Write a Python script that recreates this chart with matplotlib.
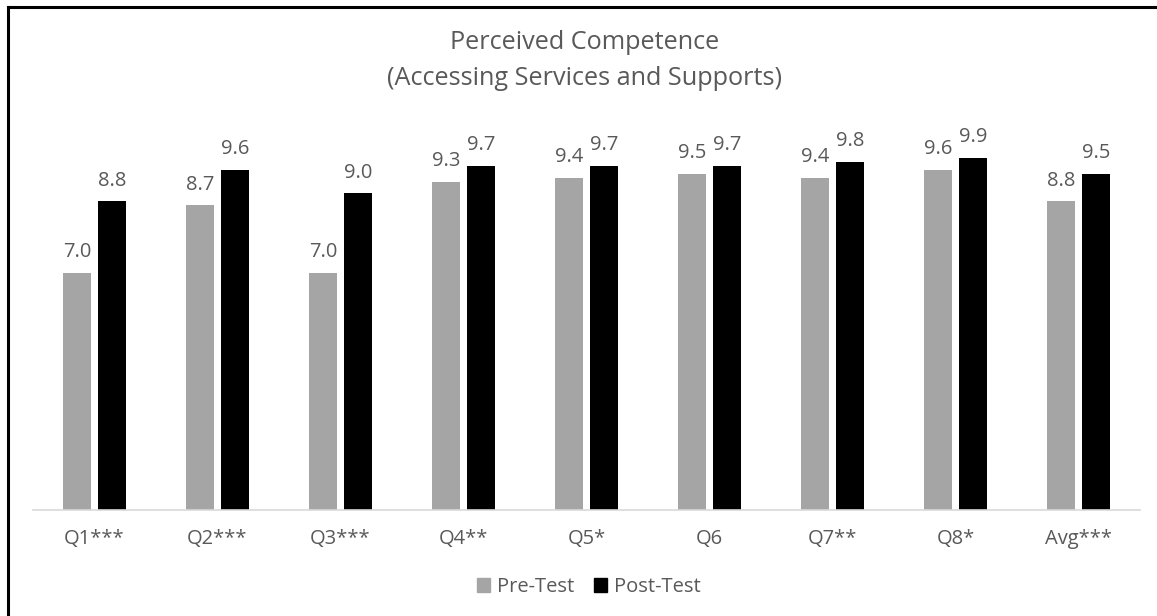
import matplotlib.pyplot as plt
from matplotlib.lines import Line2D
from matplotlib.patches import Patch
import numpy as np

# --- Data ---
categories = ['Q1***', 'Q2***', 'Q3***', 'Q4**', 'Q5*', 'Q6', 'Q7**', 'Q8*', 'Avg***']
pre_test = [7.0, 8.7, 7.0, 9.3, 9.4, 9.5, 9.4, 9.6, 8.8]
post_test = [8.8, 9.6, 9.0, 9.7, 9.7, 9.7, 9.8, 9.9, 9.5]

plt.rcParams['font.family'] = ['Open Sans', 'DejaVu Sans']
text_col = '#595959'
pre_col = '#A5A5A5'
post_col = '#000000'

fig = plt.figure(figsize=(11.57, 6.16), dpi=100)
ax = fig.add_axes([0.0285, 0.1721, 0.9568, 0.578])

x = np.arange(len(categories))
w = 0.228
off = 0.142
b1 = ax.bar(x - off, np.array(pre_test) - 1, w, bottom=1, color=pre_col)
b2 = ax.bar(x + off, np.array(post_test) - 1, w, bottom=1, color=post_col)

# value labels above each bar
for xs, vals in ((x - off, pre_test), (x + off, post_test)):
    for xi, v in zip(xs, vals):
        ax.annotate('%.1f' % v, (xi, v), xytext=(0, 7.5), textcoords='offset points',
                    ha='center', va='bottom', fontsize=14.5, color=text_col)

ax.set_xlim(-0.5, len(categories) - 0.5)
ax.set_ylim(1, 10)
ax.set_xticks(x)
ax.set_xticklabels(categories, fontsize=14.5, color=text_col)
ax.tick_params(axis='x', length=0, pad=14)
ax.set_yticks([])
for s in ['top', 'right', 'left']:
    ax.spines[s].set_visible(False)
ax.spines['bottom'].set_color('#D9D9D9')
ax.spines['bottom'].set_linewidth(1.2)

fig.text(0.5055, 0.931, 'Perceived Competence', ha='center', va='center',
         fontsize=18.2, color=text_col)
fig.text(0.5055, 0.873, '(Accessing Services and Supports)', ha='center', va='center',
         fontsize=18.2, color=text_col)

handles = [Patch(color=pre_col), Patch(color=post_col)]
fig.legend(handles, ['Pre-Test', 'Post-Test'], loc='center', bbox_to_anchor=(0.509, 0.047),
           ncol=2, frameon=False, fontsize=14.5, labelcolor=text_col,
           handlelength=0.65, handleheight=0.65, handletextpad=0.35, columnspacing=1.0)

# outer chart frame
fig.add_artist(Line2D([8 / 1157, 1], [1 - 7 / 616, 1 - 7 / 616], color='black', lw=2.2))
fig.add_artist(Line2D([8 / 1157, 8 / 1157], [0, 1 - 7 / 616], color='black', lw=2.2))

fig.savefig('out.png', dpi=100)
